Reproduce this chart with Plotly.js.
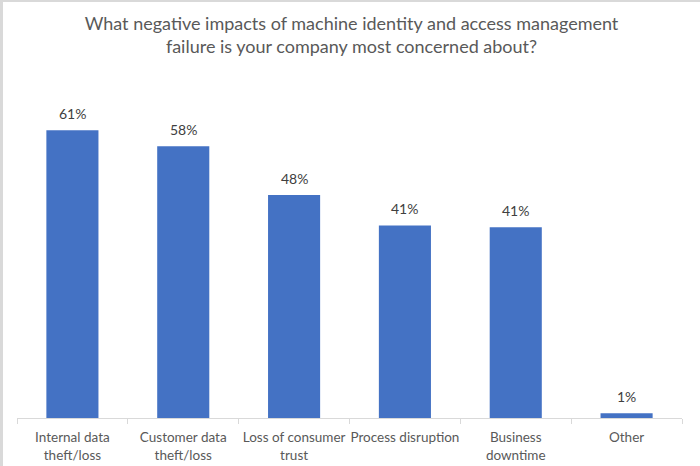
<!DOCTYPE html>
<html>
<head>
<meta charset="utf-8">
<script src="https://cdn.plot.ly/plotly-3.0.1.min.js"></script>
<style>
  html, body { margin: 0; padding: 0; background: #ffffff; }
  #wrap { width: 697px; height: 464px; border-left: 3px solid #d9d9d9; border-top: 2px solid #d9d9d9; }
  #chart { width: 697px; height: 464px; }
</style>
</head>
<body>
<div id="wrap"><div id="chart"></div></div>
<script>
const categories = [
  "Internal data<br>theft/loss",
  "Customer data<br>theft/loss",
  "Loss of consumer<br>trust",
  "Process disruption",
  "Business<br>downtime",
  "Other"
];
const values = [61.4, 58.0, 47.6, 41.1, 40.7, 1.0];
const titleText = "What negative impacts of machine identity and access management<br>failure is your company most concerned about?";

const FONT = "Lato, 'Open Sans', sans-serif";

const labels = categories.map((c, i) => ({
  x: c, y: values[i], xref: "x", yref: "y",
  text: Math.round(values[i]) + "%",
  showarrow: false, yanchor: "bottom", yshift: 6,
  font: { family: FONT, size: 14, color: "#404040" }
}));

Plotly.newPlot("chart", [{
  type: "bar",
  x: categories,
  y: values,
  marker: { color: "#4472c4" },
  hoverinfo: "skip"
}], {
  width: 697,
  height: 464,
  margin: { l: 14, r: 18, t: 88, b: 48 },
  paper_bgcolor: "#ffffff",
  plot_bgcolor: "#ffffff",
  bargap: 0.53,
  showlegend: false,
  annotations: labels,
  title: {
    text: titleText,
    font: { family: FONT, size: 18, color: "#595959" },
    x: 0.5, xanchor: "center",
    y: 0.94, yanchor: "top", yref: "container"
  },
  xaxis: {
    type: "category",
    showline: true, linecolor: "#d9d9d9", linewidth: 1,
    ticks: "outside", tickson: "boundaries", ticklen: 5, tickcolor: "#d9d9d9",
    tickangle: 0, ticklabelstandoff: 7,
    tickfont: { family: FONT, size: 13.5, color: "#595959" },
    showgrid: false, zeroline: false, fixedrange: true
  },
  yaxis: {
    range: [0, 70],
    visible: false, showgrid: false, zeroline: false, fixedrange: true
  }
}, { displayModeBar: false, staticPlot: true });
</script>
</body>
</html>
